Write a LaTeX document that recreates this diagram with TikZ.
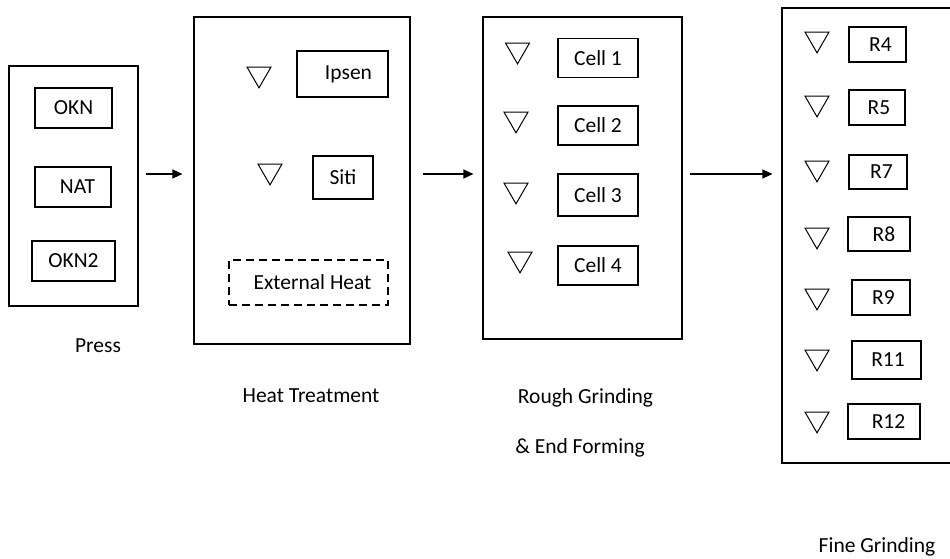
\documentclass[tikz,border=0pt]{standalone}
\usepackage{fontspec}
\setmainfont{Carlito}
\usetikzlibrary{arrows.meta,shapes.geometric}
\tikzset{
  every node/.style={font=\fontsize{21.5}{25}\selectfont},
  frame/.style={draw, line width=1.1pt, inner sep=0pt, rectangle},
  item/.style={draw, line width=1.1pt, inner sep=0pt, rectangle},
  dashbox/.style={draw, line width=1.6pt, dash pattern=on 8pt off 5pt, inner sep=0pt, rectangle},
  tri/.style={draw, line width=1pt, regular polygon, regular polygon sides=3,
    shape border rotate=180, minimum size=27.7pt, inner sep=0pt},
  arr/.style={line width=1.3pt, -{Triangle[length=10pt,width=9pt]}},
  lbl/.style={anchor=base, inner sep=0pt}
}
\begin{document}
\begin{tikzpicture}[x=1pt,y=-1pt]
\clip (0,0) rectangle (950,559);
\fill[white] (0,0) rectangle (950,559);
% Press
\node[frame, minimum width=129pt, minimum height=240pt] (press) at (73.5,186) {};
\node[item, minimum width=77pt, minimum height=40pt] (okn) at (73.5,108) {OKN};
\node[item, minimum width=76pt, minimum height=40pt] (nat) at (73,187) {\hspace*{9pt}NAT};
\node[item, minimum width=83pt, minimum height=40pt] (okn2) at (73.5,261) {OKN2};
\node[lbl] (presslbl) at (98,352) {Press};
% Heat treatment
\node[frame, minimum width=216pt, minimum height=327pt] (heat) at (302,180.5) {};
\node[item, minimum width=91pt, minimum height=46pt] (ipsen) at (342.5,74) {\hspace*{12pt}Ipsen};
\node[item, minimum width=60pt, minimum height=43pt] (siti) at (343,177.5) {Siti};
\node[dashbox, minimum width=159pt, minimum height=45pt] (ext) at (308.5,282.5) {\hspace*{8pt}External Heat};
\node[tri] (th1) at (259,74) {};
\node[tri] (th2) at (270,171) {};
\node[lbl] (heatlbl) at (311,402.5) {Heat Treatment};
% Rough grinding
\node[frame, minimum width=199pt, minimum height=322pt] (rough) at (582.5,178) {};
\node[item, minimum width=80pt, minimum height=39pt] (c1) at (598,58) {Cell 1};
\node[item, minimum width=80pt, minimum height=39pt] (c2) at (598,125.5) {Cell 2};
\node[item, minimum width=80pt, minimum height=42pt] (c3) at (598,195) {Cell 3};
\node[item, minimum width=80pt, minimum height=39pt] (c4) at (598,265.5) {Cell 4};
\node[tri] (tr1) at (517.5,50) {};
\node[tri] (tr2) at (516,119) {};
\node[tri] (tr3) at (516,190) {};
\node[tri] (tr4) at (520,259) {};
\node[lbl] (roughlbl1) at (585.5,403) {Rough Grinding};
\node[lbl] (roughlbl2) at (580,453) {\& End Forming};
% Fine grinding
\node[frame, minimum width=178pt, minimum height=455pt] (fine) at (871,235.5) {};
\node[item, minimum width=57pt, minimum height=35pt] (r4) at (877.5,44.5) {\hspace*{6pt}R4};
\node[item, minimum width=56pt, minimum height=35pt] (r5) at (877,107.5) {\hspace*{4pt}R5};
\node[item, minimum width=58pt, minimum height=34pt] (r7) at (878,172) {\hspace*{7pt}R7};
\node[item, minimum width=62pt, minimum height=34pt] (r8) at (879,234) {\hspace*{10pt}R8};
\node[item, minimum width=58pt, minimum height=35pt] (r9) at (881,297.5) {\hspace*{5pt}R9};
\node[item, minimum width=69pt, minimum height=38pt] (r11) at (886.5,360) {\hspace*{3pt}R11};
\node[item, minimum width=72pt, minimum height=35pt] (r12) at (884,421.5) {\hspace*{9pt}R12};
\node[tri] (tf1) at (817,39) {};
\node[tri] (tf2) at (817,103) {};
\node[tri] (tf3) at (817,168) {};
\node[tri] (tf4) at (817,235) {};
\node[tri] (tf5) at (817,296) {};
\node[tri] (tf6) at (817,357) {};
\node[tri] (tf7) at (817,419) {};
\node[lbl] (finelbl) at (877,552.5) {Fine Grinding};
% arrows
\draw[arr] ([shift={(7,-12)}]press.east) -- ([shift={(-11,-6.5)}]heat.west);
\draw[arr] ([shift={(12,-6.5)}]heat.east) -- ([shift={(-9,-4)}]rough.west);
\draw[arr] ([shift={(7,-4)}]rough.east) -- ([shift={(-9,-61.5)}]fine.west);
\end{tikzpicture}
\end{document}
